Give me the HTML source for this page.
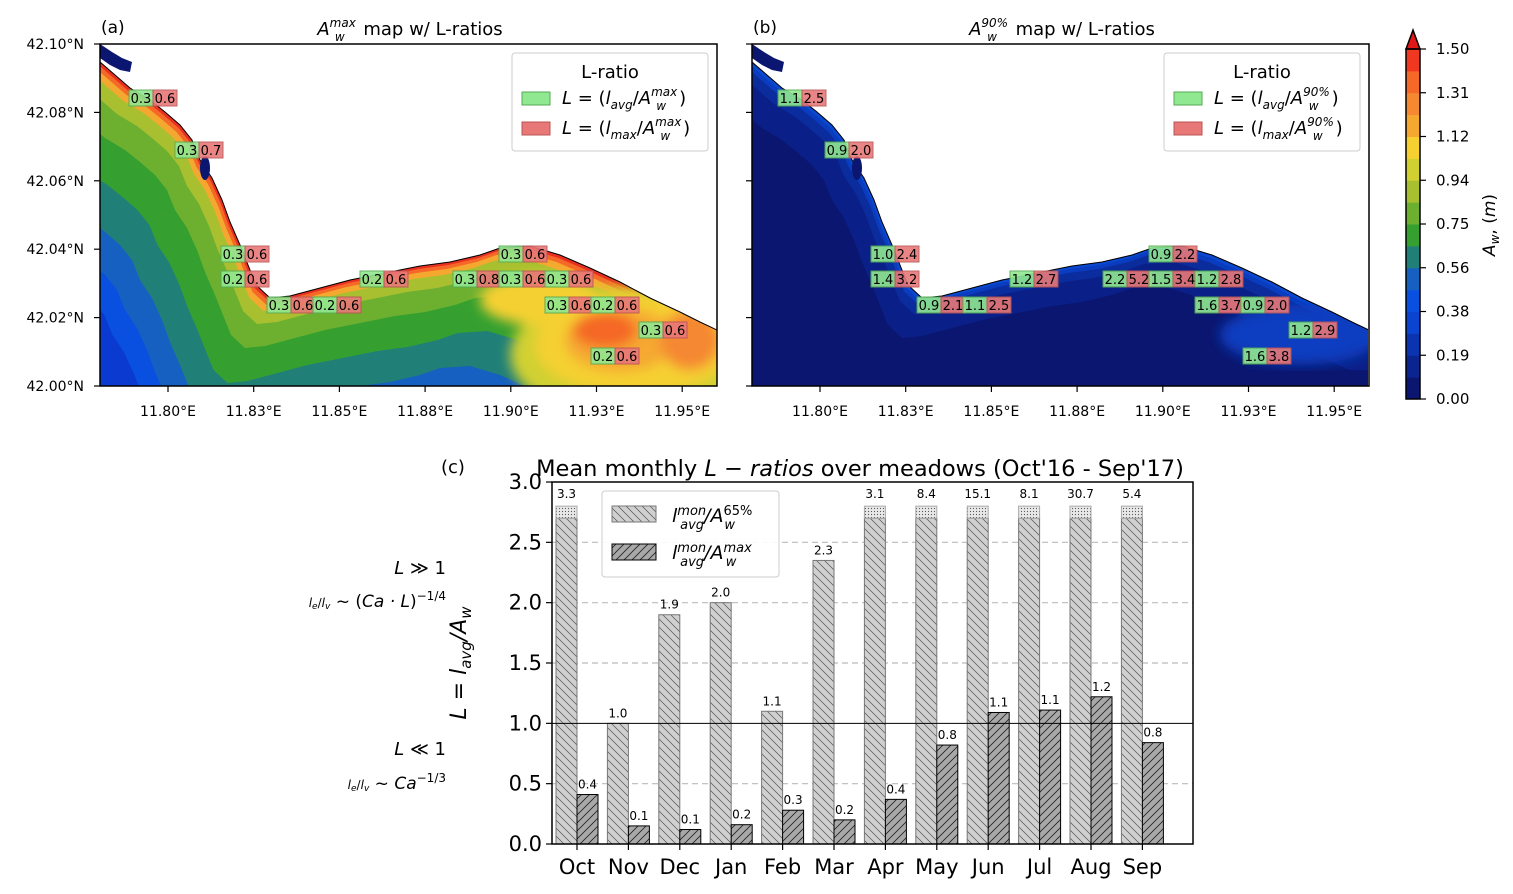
<!DOCTYPE html>
<html><head><meta charset="utf-8"><style>
body{margin:0;background:#fff;}
svg{display:block;font-family:"DejaVu Sans","Liberation Sans",sans-serif;}
</style></head><body>
<svg id="fig" width="1513" height="894" viewBox="0 0 1513 894">
<defs>
<pattern id="hL" patternUnits="userSpaceOnUse" width="8" height="8"><rect width="8" height="8" fill="#d0d0d0"/><path d="M-2,-2 L10,10 M-2,6 L2,10 M6,-2 L10,2" stroke="#555" stroke-width="0.7"/></pattern>
<pattern id="hD" patternUnits="userSpaceOnUse" width="8" height="8"><rect width="8" height="8" fill="#a8a8a8"/><path d="M-2,10 L10,-2 M-2,2 L2,-2 M6,10 L10,6" stroke="#222" stroke-width="0.8"/></pattern>
<pattern id="dots" patternUnits="userSpaceOnUse" width="3" height="3"><rect width="3" height="3" fill="#e8e8e8"/><circle cx="1.5" cy="1.5" r="0.6" fill="#555"/></pattern>
<clipPath id="clipA"><rect x="100" y="44" width="617" height="342"/></clipPath>
<clipPath id="clipB"><rect x="752" y="44" width="616" height="342"/></clipPath>
<filter id="blur"><feGaussianBlur stdDeviation="6"/></filter>
</defs>
<g id="mapA"></g>
<g id="mapB"></g>
<g id="cbar"></g>
<g id="chart"></g>
</svg>
<script>
const NS="http://www.w3.org/2000/svg";
function mk(p,t,a,txt){const e=document.createElementNS(NS,t);for(const k in a)e.setAttribute(k,a[k]);if(txt!==undefined)e.textContent=txt;p.appendChild(e);return e;}

// ---- Map data ----
const coast=[[100,62],[115,75],[130,88],[150,100],[165,112],[180,125],[192,140],[200,160],[212,178],[222,200],[230,222],[240,245],[248,265],[256,285],[270,298],[290,296],[320,288],[350,280],[380,274],[420,266],[450,262],[480,255],[500,248],[530,246],[560,255],[590,268],[620,282],[650,298],[680,312],[700,322],[717,330]];
const bandsA=[[175,"#0a50e0"],[150,"#1560c0"],[120,"#208078"],[85,"#35a030"],[50,"#6db030"],[26,"#a8c030"],[13,"#f5a830"],[7,"#f56828"],[3,"#e83020"]];
const bandsB=[[40,"#0a2088"],[16,"#0a2c9c"],[7,"#0a3cc0"],[3,"#0a48d0"]];
const labelsA=[[129,98,"0.3","0.6"],[175,150,"0.3","0.7"],[221,254,"0.3","0.6"],[221,279,"0.2","0.6"],[360,279,"0.2","0.6"],[453,279,"0.3","0.8"],[499,279,"0.3","0.6"],[545,279,"0.3","0.6"],[499,254,"0.3","0.6"],[267,305,"0.3","0.6"],[313,305,"0.2","0.6"],[545,305,"0.3","0.6"],[591,305,"0.2","0.6"],[639,330,"0.3","0.6"],[591,356,"0.2","0.6"]];
const labelsB=[[778,98,"1.1","2.5"],[825,150,"0.9","2.0"],[871,254,"1.0","2.4"],[871,279,"1.4","3.2"],[1010,279,"1.2","2.7"],[1103,279,"2.2","5.2"],[1149,279,"1.5","3.4"],[1195,279,"1.2","2.8"],[1149,254,"0.9","2.2"],[917,305,"0.9","2.1"],[963,305,"1.1","2.5"],[1195,305,"1.6","3.7"],[1241,305,"0.9","2.0"],[1289,330,"1.2","2.9"],[1243,356,"1.6","3.8"]];
const lonTicks=["11.80°E","11.83°E","11.85°E","11.88°E","11.90°E","11.93°E","11.95°E"];
const latTicks=["42.10°N","42.08°N","42.06°N","42.04°N","42.02°N","42.00°N"];

function drawMap(g,dx,bg,bands,labels,clip,letter,sup,withLatLabels){
  const c=mk(g,"g",{"clip-path":"url(#"+clip+")"});
  mk(c,"rect",{x:100+dx,y:44,width:617,height:342,fill:bg});
  bands.forEach(([d,col])=>{
    let pts=coast.map(p=>[p[0]+dx-d*0.5,p[1]+d]);
    pts.push([740+dx,pts[pts.length-1][1]],[740+dx,30],[80+dx,30]);
    mk(c,"polygon",{points:pts.map(p=>p.join(",")).join(" "),fill:col});
  });
  if(dx===0){
    const h=mk(c,"g",{filter:"url(#blur)"});
    mk(h,"ellipse",{cx:650,cy:355,rx:140,ry:70,fill:"#d0d030"});
    mk(h,"ellipse",{cx:635,cy:345,rx:100,ry:50,fill:"#f5d030"});
    mk(h,"ellipse",{cx:540,cy:300,rx:60,ry:25,fill:"#f5d030"});
    mk(h,"ellipse",{cx:620,cy:340,rx:55,ry:32,fill:"#f5a830"});
    mk(h,"ellipse",{cx:605,cy:330,rx:32,ry:18,fill:"#f56828"});
    mk(h,"ellipse",{cx:690,cy:340,rx:30,ry:30,fill:"#f58830"});
  } else {
    const h=mk(c,"g",{filter:"url(#blur)"});
    mk(h,"ellipse",{cx:1300,cy:335,rx:80,ry:30,fill:"#0a3cc0"});
  }
  let land=coast.map(p=>[p[0]+dx,p[1]]);
  land.push([740+dx,330],[740+dx,30],[80+dx,30],[80+dx,55]);
  mk(c,"polygon",{points:land.map(p=>p.join(",")).join(" "),fill:"#fff",stroke:"#000","stroke-width":1});
  mk(c,"path",{d:`M${100+dx},44 L${112+dx},52 L${122+dx},58 L${132+dx},62 L${130+dx},72 L${120+dx},70 L${110+dx},65 L${100+dx},58 Z`,fill:"#0a1670"});
  mk(c,"ellipse",{cx:205+dx,cy:168,rx:5,ry:12,fill:"#0a1670"});
  mk(g,"rect",{x:100+dx,y:44,width:617,height:342,fill:"none",stroke:"#000","stroke-width":1.5});
  lonTicks.forEach((t,i)=>{const x=168+dx+i*85.7;
    mk(g,"line",{x1:x,y1:386,x2:x,y2:392,stroke:"#000","stroke-width":1.2});
    const e=mk(g,"text",{x:x,y:416,"font-size":14,"text-anchor":"middle"},t);
    });
  latTicks.forEach((t,i)=>{const y=44+i*68.4;
    mk(g,"line",{x1:94+dx,y1:y,x2:100+dx,y2:y,stroke:"#000","stroke-width":1.2});
    if(withLatLabels){const e=mk(g,"text",{x:84,y:y+5,"font-size":14,"text-anchor":"end"},t);
    }});
  const lt=mk(g,"text",{x:101+dx,y:33,"font-size":17},letter);
  
  const tt=mk(g,"text",{x:410+dx,y:35,"font-size":18,"text-anchor":"middle"});
  
  tt.innerHTML=`<tspan font-style="italic">A</tspan><tspan font-size="12" dy="-8" font-style="italic">${sup}</tspan><tspan font-size="12" dx="-${sup.length*7}" dy="14" font-style="italic">w</tspan><tspan dy="-6" dx="${sup.length*7-8}"> map w/ L-ratios</tspan>`;
  labels.forEach(([x,y,a,b])=>{
    const r1=mk(g,"rect",{x:x,y:y-8,width:24,height:16,fill:"#90e890",stroke:"#5a5",opacity:0.9});
    
    mk(g,"text",{x:x+12,y:y+5,"font-size":13,"text-anchor":"middle"},a);
    const r2=mk(g,"rect",{x:x+24,y:y-8,width:24,height:16,fill:"#e87878",stroke:"#b55",opacity:0.9});
    
    mk(g,"text",{x:x+36,y:y+5,"font-size":13,"text-anchor":"middle"},b);
  });
  const lg=mk(g,"g",{});
  
  mk(lg,"rect",{x:512+dx,y:53,width:196,height:98,rx:3,fill:"#fff",stroke:"#ccc","fill-opacity":0.9});
  mk(lg,"text",{x:610+dx,y:78,"font-size":18,"text-anchor":"middle"},"L-ratio");
  mk(lg,"rect",{x:522+dx,y:92,width:28,height:13,fill:"#90e890",stroke:"#5a5"});
  mk(lg,"rect",{x:522+dx,y:122,width:28,height:13,fill:"#e87878",stroke:"#b55"});
  const l1=mk(lg,"text",{x:562+dx,y:104,"font-size":18});
  l1.innerHTML=`<tspan font-style="italic">L</tspan> = (<tspan font-style="italic">l</tspan><tspan font-size="12" dy="5" font-style="italic">avg</tspan><tspan dy="-5">/</tspan><tspan font-style="italic">A</tspan><tspan font-size="12" dy="-8" font-style="italic">${sup}</tspan><tspan font-size="12" dx="-${sup.length*7}" dy="14" font-style="italic">w</tspan><tspan dy="-6" dx="${sup.length*7-8}">)</tspan>`;
  const l2=mk(lg,"text",{x:562+dx,y:134,"font-size":18});
  l2.innerHTML=`<tspan font-style="italic">L</tspan> = (<tspan font-style="italic">l</tspan><tspan font-size="12" dy="5" font-style="italic">max</tspan><tspan dy="-5">/</tspan><tspan font-style="italic">A</tspan><tspan font-size="12" dy="-8" font-style="italic">${sup}</tspan><tspan font-size="12" dx="-${sup.length*7}" dy="14" font-style="italic">w</tspan><tspan dy="-6" dx="${sup.length*7-8}">)</tspan>`;
}
drawMap(document.getElementById("mapA"),0,"#0a3ad0",bandsA,labelsA,"clipA","(a)","max",true);
drawMap(document.getElementById("mapB"),652,"#0a1670",bandsB,labelsB,"clipB","(b)","90%",false);

// ---- Colorbar ----
const cbColors=["#0a1670","#0a2490","#0a34b0","#0a44d0","#0a50e0","#1560c0","#208078","#35a030","#6db030","#a8c030","#d0d030","#f5d030","#f5a830","#f58830","#f56828","#f03820"];
const cbTicks=["0.00","0.19","0.38","0.56","0.75","0.94","1.12","1.31","1.50"];
(function(){
  const g=document.getElementById("cbar");
  const y0=399,y1=49,h=(y0-y1)/cbColors.length;
  cbColors.forEach((c,i)=>mk(g,"rect",{x:1406,y:y0-(i+1)*h,width:14,height:h+0.5,fill:c}));
  mk(g,"polygon",{points:"1406,49 1413,30 1420,49",fill:"#e01818",stroke:"#000","stroke-width":1.5});
  mk(g,"rect",{x:1406,y:49,width:14,height:350,fill:"none",stroke:"#000","stroke-width":1.5});
  cbTicks.forEach((t,i)=>{const y=y0-i*(y0-y1)/8;
    mk(g,"line",{x1:1420,y1:y,x2:1426,y2:y,stroke:"#000","stroke-width":1.2});
    const e=mk(g,"text",{x:1436,y:y+5,"font-size":15},t);
    });
  const l=mk(g,"text",{transform:"translate(1495,225) rotate(-90)","font-size":17,"text-anchor":"middle"});
  l.innerHTML=`<tspan font-style="italic">A</tspan><tspan font-size="12" dy="4" font-style="italic">w</tspan><tspan dy="-4">, (</tspan><tspan font-style="italic">m</tspan>)`;
  
})();

// ---- Bar chart data ----
const months=["Oct","Nov","Dec","Jan","Feb","Mar","Apr","May","Jun","Jul","Aug","Sep"];
const light=[3.3,1.0,1.9,2.0,1.1,2.35,3.1,8.4,15.1,8.1,30.7,5.4];
const lightLbl=["3.3","1.0","1.9","2.0","1.1","2.3","3.1","8.4","15.1","8.1","30.7","5.4"];
const dark=[0.41,0.15,0.12,0.16,0.28,0.2,0.37,0.82,1.09,1.11,1.22,0.84];
const darkLbl=["0.4","0.1","0.1","0.2","0.3","0.2","0.4","0.8","1.1","1.1","1.2","0.8"];
const yTicks=[0,0.5,1.0,1.5,2.0,2.5,3.0];
const CAP=2.7;
(function(){
  const g=document.getElementById("chart");
  const X0=552,X1=1193,Y0=844,Y1=482;
  const y=v=>Y0-(v/3)*(Y0-Y1);
  const xc=i=>577+i*51.4;
  yTicks.forEach(t=>{
    if(t>0&&t<3&&t!==1) mk(g,"line",{x1:X0,x2:X1,y1:y(t),y2:y(t),stroke:"#bbb","stroke-dasharray":"6,4","stroke-width":1.2});
    mk(g,"line",{x1:X0-6,x2:X0,y1:y(t),y2:y(t),stroke:"#000","stroke-width":1.2});
    const e=mk(g,"text",{x:X0-10,y:y(t)+7,"font-size":21,"text-anchor":"end"},t.toFixed(1));
    
  });
  months.forEach((m,i)=>{
    const c=xc(i),w=21;
    const lv=Math.min(light[i],CAP);
    const b1=mk(g,"rect",{x:c-w,y:y(lv),width:w,height:Y0-y(lv),fill:"url(#hL)",stroke:"#777","stroke-width":1});
    
    let ly=y(lv)-6;
    if(light[i]>CAP){mk(g,"rect",{x:c-w,y:y(CAP+0.1),width:w,height:y(CAP)-y(CAP+0.1),fill:"url(#dots)",stroke:"#aaa"});ly=y(CAP+0.1)-8;}
    mk(g,"text",{x:c-w/2,y:ly,"font-size":12,"text-anchor":"middle"},lightLbl[i]);
    const b2=mk(g,"rect",{x:c,y:y(dark[i]),width:w,height:Y0-y(dark[i]),fill:"url(#hD)",stroke:"#000","stroke-width":1});
    
    mk(g,"text",{x:c+w/2,y:y(dark[i])-6,"font-size":12,"text-anchor":"middle"},darkLbl[i]);
    mk(g,"line",{x1:c,x2:c,y1:Y0,y2:Y0+6,stroke:"#000","stroke-width":1.2});
    const e=mk(g,"text",{x:c,y:Y0+30,"font-size":21,"text-anchor":"middle"},m);
    
  });
  mk(g,"line",{x1:X0,x2:X1,y1:y(1),y2:y(1),stroke:"#000","stroke-width":1});
  mk(g,"rect",{x:X0,y:Y1,width:X1-X0,height:Y0-Y1,fill:"none",stroke:"#000","stroke-width":1.5});
  const t=mk(g,"text",{x:860,y:476,"font-size":22.5,"text-anchor":"middle"});
  t.innerHTML=`Mean monthly <tspan font-style="italic">L − ratios</tspan> over meadows (Oct'16 - Sep'17)`;
  
  mk(g,"text",{x:441,y:473,"font-size":18},"(c)");
  const yl=mk(g,"text",{transform:"translate(466,663) rotate(-90)","font-size":22,"text-anchor":"middle"});
  yl.innerHTML=`<tspan font-style="italic">L</tspan> = <tspan font-style="italic">l</tspan><tspan font-size="15" dy="5" font-style="italic">avg</tspan><tspan dy="-5" font-style="italic">/A</tspan><tspan font-size="15" dy="5" font-style="italic">w</tspan>`;
  
  const a1=mk(g,"text",{x:446,y:574,"font-size":18,"text-anchor":"end"});a1.innerHTML=`<tspan font-style="italic">L</tspan> ≫ 1`;
  const a2=mk(g,"text",{x:446,y:607,"font-size":17,"text-anchor":"end"});a2.innerHTML=`<tspan font-size="12" font-style="italic">l</tspan><tspan font-size="9" font-style="italic" dy="2">e</tspan><tspan font-size="12" dy="-2">/</tspan><tspan font-size="12" font-style="italic">l</tspan><tspan font-size="9" font-style="italic" dy="2">v</tspan><tspan dy="-2"> ~ (</tspan><tspan font-style="italic">Ca · L</tspan>)<tspan font-size="12" dy="-7">−1/4</tspan>`;
  const a3=mk(g,"text",{x:446,y:755,"font-size":18,"text-anchor":"end"});a3.innerHTML=`<tspan font-style="italic">L</tspan> ≪ 1`;
  const a4=mk(g,"text",{x:446,y:789,"font-size":17,"text-anchor":"end"});a4.innerHTML=`<tspan font-size="12" font-style="italic">l</tspan><tspan font-size="9" font-style="italic" dy="2">e</tspan><tspan font-size="12" dy="-2">/</tspan><tspan font-size="12" font-style="italic">l</tspan><tspan font-size="9" font-style="italic" dy="2">v</tspan><tspan dy="-2"> ~ </tspan><tspan font-style="italic">Ca</tspan><tspan font-size="12" dy="-7">−1/3</tspan>`;
  const lg=mk(g,"g",{});
  
  mk(lg,"rect",{x:602,y:491,width:177,height:86,rx:3,fill:"#fff",stroke:"#ccc","fill-opacity":0.9});
  mk(lg,"rect",{x:612,y:506,width:44,height:16,fill:"url(#hL)",stroke:"#777"});
  mk(lg,"rect",{x:612,y:544,width:44,height:16,fill:"url(#hD)",stroke:"#000"});
  const e1=mk(lg,"text",{x:672,y:522,"font-size":19});
  e1.innerHTML=`<tspan font-style="italic">l</tspan><tspan font-size="13" dy="-7" font-style="italic">mon</tspan><tspan font-size="13" dx="-26" dy="14" font-style="italic">avg</tspan><tspan dy="-7" font-style="italic">/A</tspan><tspan font-size="13" dy="-7">65%</tspan><tspan font-size="13" dx="-28" dy="14" font-style="italic">w</tspan>`;
  const e2=mk(lg,"text",{x:672,y:559,"font-size":19});
  e2.innerHTML=`<tspan font-style="italic">l</tspan><tspan font-size="13" dy="-7" font-style="italic">mon</tspan><tspan font-size="13" dx="-26" dy="14" font-style="italic">avg</tspan><tspan dy="-7" font-style="italic">/A</tspan><tspan font-size="13" dy="-7" font-style="italic">max</tspan><tspan font-size="13" dx="-26" dy="14" font-style="italic">w</tspan>`;
})();
</script>
</body></html>
